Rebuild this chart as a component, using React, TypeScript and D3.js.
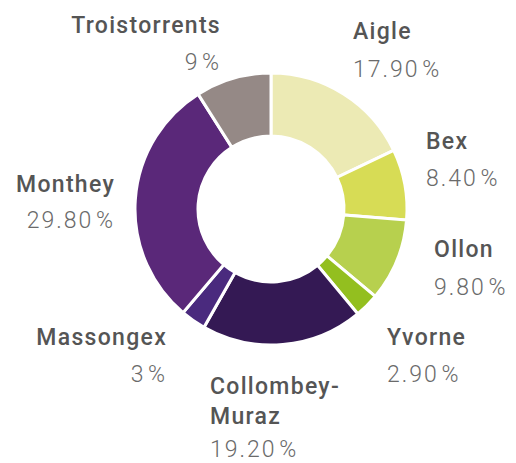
import React from "react";
import * as d3 from "d3";

const communes = ["Aigle", "Bex", "Ollon", "Yvorne", "Collombey-Muraz", "Massongex", "Monthey", "Troistorrents"];
const shares = [17.9, 8.4, 9.8, 2.9, 19.2, 3, 29.8, 9];
const shareNumbers = ["17.90", "8.40", "9.80", "2.90", "19.20", "3", "29.80", "9"];
const nameLines = [["Aigle"], ["Bex"], ["Ollon"], ["Yvorne"], ["Collombey-", "Muraz"], ["Massongex"], ["Monthey"], ["Troistorrents"]];
const colors = ["#ECEAB4", "#D7DC55", "#B7D04E", "#93BF1F", "#341954", "#4A2A7E", "#5A2879", "#958986"];

// label layout (position / alignment only)
const labelLayout: Record<string, { x: number; y: number; py: number; anchor: string }> = {
  Aigle: { x: 353, y: 39, py: 77, anchor: "start" },
  Bex: { x: 426, y: 149, py: 186, anchor: "start" },
  Ollon: { x: 434, y: 257, py: 295, anchor: "start" },
  Yvorne: { x: 387, y: 345, py: 382, anchor: "start" },
  "Collombey-Muraz": { x: 210, y: 394, py: 457, anchor: "start" },
  Massongex: { x: 167, y: 345, py: 382, anchor: "end" },
  Monthey: { x: 115, y: 192, py: 228, anchor: "end" },
  Troistorrents: { x: 221, y: 33, py: 70, anchor: "end" },
};

const W = 516;
const H = 463;
const cx = 271;
const cy = 209;
const outerR = 136;
const innerR = 73;

export default function App() {
  const data = communes.map((c, i) => ({ name: c, value: shares[i], color: colors[i], num: shareNumbers[i], lines: nameLines[i] }));
  const pie = d3.pie<any>().value((d) => d.value).sort(null)(data);
  const arc = d3.arc<any>().innerRadius(innerR).outerRadius(outerR);
  const font = "Roboto, 'DejaVu Sans', sans-serif";
  return (
    <svg width={W} height={H} style={{ position: "absolute", left: 0, top: 0, background: "#fff" }}>
      <g transform={`translate(${cx},${cy})`}>
        {pie.map((p, i) => (
          <path key={i} d={arc(p) as string} fill={p.data.color} stroke="#fff" strokeWidth={3} strokeLinejoin="miter" />
        ))}
      </g>
      {data.map((d, i) => {
        const L = labelLayout[d.name];
        return (
          <g key={i} fontFamily={font}>
            {d.lines.map((ln, j) => (
              <text key={j} x={L.x} y={L.y + j * 30} textAnchor={L.anchor} fontSize={23} fontWeight={500} fill="#555555" letterSpacing={1.3}>
                {ln}
              </text>
            ))}
            <text x={L.x} y={L.py} textAnchor={L.anchor} fontSize={23} fontWeight={300} fill="#6a6a6a" letterSpacing={2}>
              {d.num}
              <tspan dx={-5}>{" %"}</tspan>
            </text>
          </g>
        );
      })}
    </svg>
  );
}
